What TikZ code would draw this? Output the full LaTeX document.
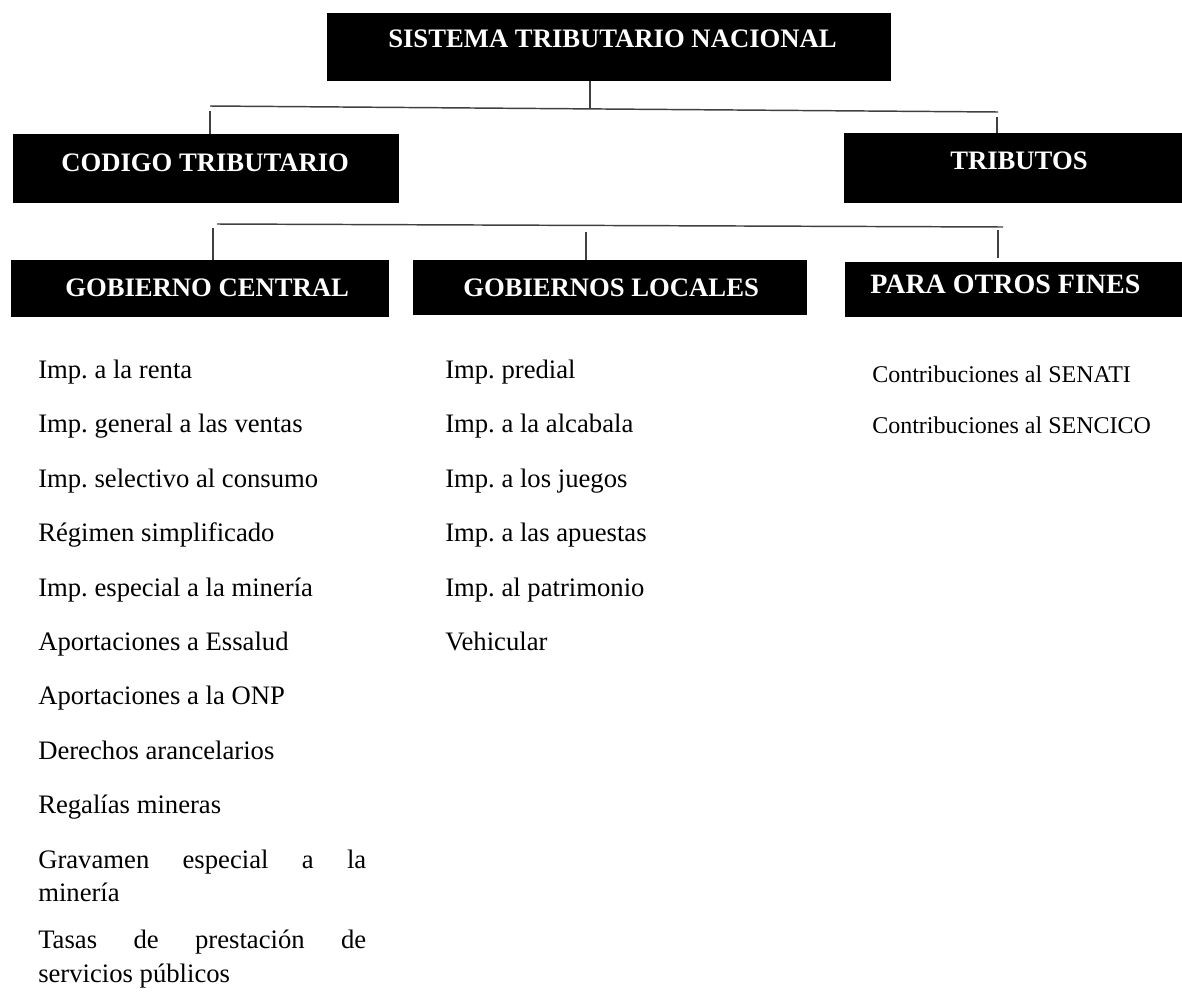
\documentclass[tikz,border=0pt]{standalone}
\usepackage{fontspec}
\setmainfont{Liberation Serif}
\usetikzlibrary{fit}
\frenchspacing
\tikzset{
  box/.style={fill=black, draw=none, inner sep=0pt},
  head/.style={text=white, font=\bfseries\fontsize{20}{24}\selectfont, inner sep=0pt, anchor=base west},
  item/.style={font=\frenchspacing\fontsize{20}{24.75}\selectfont, inner sep=0pt, anchor=base west},
  smallitem/.style={font=\fontsize{18}{22}\selectfont, inner sep=0pt, anchor=base west},
  conn/.style={draw=black!75, line width=1.1pt},
}
\begin{document}
\begin{tikzpicture}[x=0.75pt,y=-0.75pt]
\useasboundingbox (0,0) rectangle (1182,996);
% boxes
\node[box, fit={(327,13) (891,81)}] (sis) {};
\node[box, fit={(13,134) (399,203)}] (cod) {};
\node[box, fit={(844,133) (1182,203)}] (tri) {};
\node[box, fit={(11,260) (389,317)}] (gc) {};
\node[box, fit={(413,260) (807,315)}] (gl) {};
\node[box, fit={(845,262) (1182,317)}] (pof) {};
% header texts
\node[head] (tsis) at (388,47) {SISTEMA TRIBUTARIO NACIONAL};
\node[head] (tcod) at (61,171) {CODIGO TRIBUTARIO};
\node[head] (ttri) at (950,169) {TRIBUTOS};
\node[head] (tgc) at (65,296) {GOBIERNO CENTRAL};
\node[head] (tgl) at (463,296) {GOBIERNOS LOCALES};
\node[head, font=\bfseries\fontsize{21}{24}\selectfont] (tpof) at (870,293) {PARA OTROS FINES};
% connector coordinates
\coordinate (h1a) at (210,106);
\coordinate (h1b) at (998,112);
\coordinate (h1m) at (590,108);
\coordinate (v1a) at (210,111);
\coordinate (v1b) at (997,117);
\coordinate (h2a) at (217,224);
\coordinate (h2b) at (1003,227);
\coordinate (v2a) at (213,228);
\coordinate (v2b) at (586,232);
\coordinate (v2c) at (998,230);
% connectors
\draw[conn] (sis.south -| h1m) -- (h1m);
\draw[conn] (h1a) -- (h1b);
\draw[conn] (v1a) -- (cod.north -| v1a);
\draw[conn] (v1b) -- (tri.north -| v1b);
\draw[conn] (h2a) -- (h2b);
\draw[conn] (v2a) -- (gc.north -| v2a);
\draw[conn] (v2b) -- (gl.north -| v2b);
\draw[conn] (v2c) -- ([yshift=3pt]pof.north -| v2c);
% left column
\node[item] (a1) at (38,378) {Imp. a la renta};
\node[item] (a2) at (38,432) {Imp. general a las ventas};
\node[item] (a3) at (38,487) {Imp. selectivo al consumo};
\node[item] (a4) at (38,541) {Régimen simplificado};
\node[item] (a5) at (38,596) {Imp. especial a la minería};
\node[item] (a6) at (38,650) {Aportaciones a Essalud};
\node[item] (a7) at (38,704) {Aportaciones a la ONP};
\node[item] (a8) at (38,759) {Derechos arancelarios};
\node[item] (a9) at (38,813) {Regalías mineras};
\node[item] (a10) at (38,868) {\makebox[246pt][s]{Gravamen especial a la}};
\node[item] (a10b) at (38,901) {minería};
\node[item] (a11) at (38,948) {\makebox[246pt][s]{Tasas de prestación de}};
\node[item] (a11b) at (38,982) {servicios públicos};
% middle column
\node[item] (b1) at (445,378) {Imp. predial};
\node[item] (b2) at (445,432) {Imp. a la alcabala};
\node[item] (b3) at (445,487) {Imp. a los juegos};
\node[item] (b4) at (445,541) {Imp. a las apuestas};
\node[item] (b5) at (445,596) {Imp. al patrimonio};
\node[item] (b6) at (445,650) {Vehicular};
% right column
\node[smallitem] (c1) at (872,382) {Contribuciones al SENATI};
\node[smallitem] (c2) at (872,433) {Contribuciones al SENCICO};
\end{tikzpicture}
\end{document}
